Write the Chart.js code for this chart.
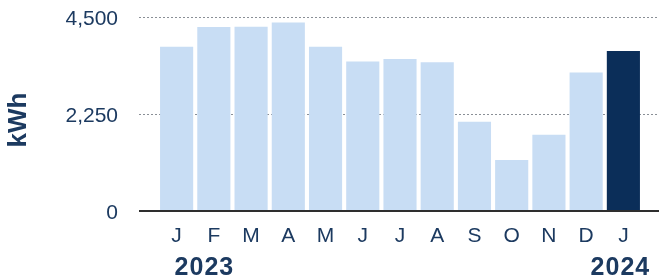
<!DOCTYPE html>
<html>
<head>
<meta charset="utf-8">
<script src="https://cdn.jsdelivr.net/npm/chart.js@4"></script>
<style>
  html, body { margin: 0; padding: 0; background: #ffffff; }
  #wrap { width: 659px; height: 278px; position: relative; }
</style>
</head>
<body>
<div id="wrap"><canvas id="c" width="659" height="278"></canvas></div>
<script>
const months = ['J', 'F', 'M', 'A', 'M', 'J', 'J', 'A', 'S', 'O', 'N', 'D', 'J'];
const usageKWh = [3810, 4270, 4275, 4370, 3810, 3465, 3525, 3450, 2070, 1185, 1770, 3215, 3710];
const yearLabels = ['2023', '2024'];
const yTicks = [0, 2250, 4500];
const yTitle = 'kWh';

const lightBlue = '#c8ddf4';
const darkNavy = '#0b2e59';
const textNavy = '#1c3a60';
const FONT = '"Liberation Sans", Arial, sans-serif';
const barColors = usageKWh.map((v, i) => i === usageKWh.length - 1 ? darkNavy : lightBlue);

const extraLines = {
  id: 'extraLines',
  beforeDatasetsDraw(chart) {
    const { ctx, chartArea, scales } = chart;
    const y = scales.y;
    ctx.save();
    ctx.strokeStyle = '#8a8f96';
    ctx.lineWidth = 1;
    ctx.setLineDash([2, 2]);
    yTicks.forEach(t => {
      if (t === 0) return;
      const py = Math.round(y.getPixelForValue(t)) + 0.5;
      ctx.beginPath();
      ctx.moveTo(chartArea.left - 19, py);
      ctx.lineTo(chart.width, py);
      ctx.stroke();
    });
    ctx.restore();
  },
  afterDatasetsDraw(chart) {
    const { ctx, chartArea, scales } = chart;
    const y = scales.y;
    const x = scales.x;
    ctx.save();
    ctx.strokeStyle = '#2e2e2e';
    ctx.lineWidth = 2.2;
    const py = y.getPixelForValue(0);
    ctx.beginPath();
    ctx.moveTo(chartArea.left - 19, py);
    ctx.lineTo(chart.width, py);
    ctx.stroke();
    // year labels
    ctx.fillStyle = textNavy;
    ctx.font = 'bold 25px ' + FONT;
    ctx.letterSpacing = '1px';
    ctx.textBaseline = 'alphabetic';
    ctx.textAlign = 'left';
    ctx.fillText(yearLabels[0], x.getPixelForValue(0) - 2, py + 64);
    ctx.textAlign = 'center';
    ctx.fillText(yearLabels[1], x.getPixelForValue(12) - 3, py + 64);
    ctx.letterSpacing = '0px';
    // y axis title
    ctx.translate(19, (chartArea.top + chartArea.bottom) / 2 + 6);
    ctx.rotate(-Math.PI / 2);
    ctx.font = 'bold 26px ' + FONT;
    ctx.textAlign = 'center';
    ctx.textBaseline = 'middle';
    ctx.fillText(yTitle, 0, 0);
    ctx.restore();
  }
};

new Chart(document.getElementById('c'), {
  type: 'bar',
  data: {
    labels: months,
    datasets: [{
      data: usageKWh,
      backgroundColor: barColors,
      borderWidth: 0,
      barPercentage: 0.89,
      categoryPercentage: 1.0
    }]
  },
  options: {
    responsive: false,
    animation: false,
    devicePixelRatio: 1,
    layout: { padding: { top: 17, right: 17, left: 4, bottom: 0 } },
    plugins: { legend: { display: false }, tooltip: { enabled: false } },
    scales: {
      x: {
        offset: true,
        grid: { display: false, drawTicks: false },
        border: { display: false },
        ticks: {
          color: textNavy,
          font: { family: FONT, size: 21 },
          padding: 13,
          maxRotation: 0,
          autoSkip: false
        },
        afterFit(scale) { scale.height = 67; }
      },
      y: {
        min: 0,
        max: 4500,
        afterBuildTicks(scale) { scale.ticks = yTicks.map(v => ({ value: v })); },
        grid: { display: false, drawTicks: false },
        border: { display: false },
        ticks: {
          color: textNavy,
          font: { family: FONT, size: 21 },
          padding: 40,
          labelOffset: 2,
          callback: v => v.toLocaleString('en-US')
        },
        afterFit(scale) { scale.width = 154; scale.paddingTop = 0; scale.paddingBottom = 0; }
      }
    }
  },
  plugins: [extraLines]
});
</script>
</body>
</html>
